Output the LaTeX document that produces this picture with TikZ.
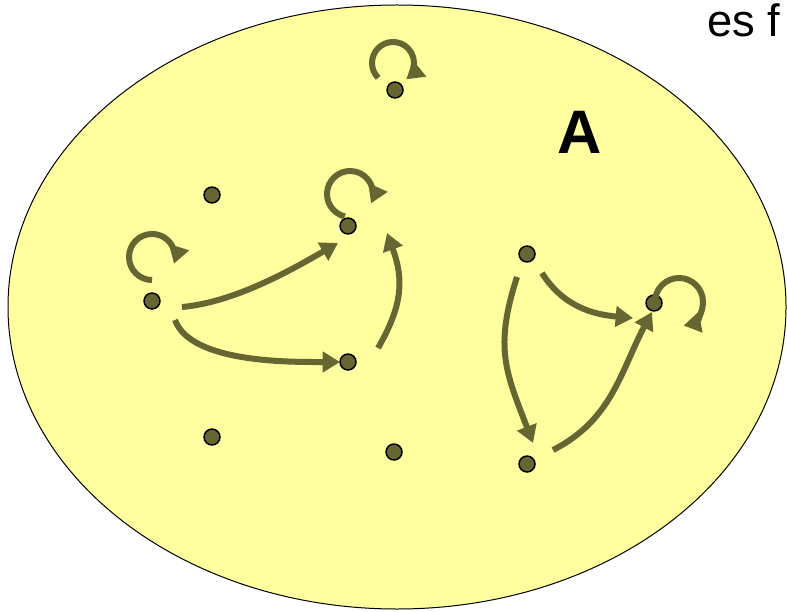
\documentclass[tikz,border=0pt]{standalone}
\usepackage{fontspec}
\setmainfont{Liberation Sans}
\usetikzlibrary{arrows.meta}
\definecolor{pale}{RGB}{255,255,160}
\definecolor{dotcol}{RGB}{102,102,51}
\begin{document}
\begin{tikzpicture}[x=0.75pt, y=0.75pt,
            vertex/.style={circle, draw, fill=dotcol, minimum size=12pt, inner sep=0pt, line width=1.1pt},
            link/.style={draw=dotcol, line width=4.5pt, -{Triangle[length=13pt,width=15pt]}}
            ]
            \useasboundingbox (0,0) rectangle (787,611);
            \draw[fill=pale, line width=0.75pt] (397,304) ellipse [x radius=389, y radius=302];

            \node[vertex] (a) at (395,521) {};
            \node[vertex] (b) at (212,416) {};
            \node[vertex] (c) at (348,385) {};
            \node[vertex] (d) at (152,310) {};
            \node[vertex] (e) at (348,249) {};
            \node[vertex] (f) at (212,174) {};
            \node[vertex] (g) at (394,159) {};
            \node[vertex] (h) at (527,357) {};
            \node[vertex] (i) at (654,308) {};
            \node[vertex] (j) at (527,147) {};

            % loops
            \draw[link] (a) ++(-2,27) ++(225:21) arc[start angle=225, end angle=-51, radius=21];
            \draw[link] (c) ++(2,32) ++(257:23) arc[start angle=257, end angle=-24, radius=23];
            \draw[link] (d) ++(0,44) ++(270:23) arc[start angle=270, end angle=-17, radius=23];
            \draw[link] (i) ++(25,1) ++(180:24) arc[start angle=180, end angle=-79, radius=24];

            % arrows between vertices
            \draw[link] ([shift={(30,-6)}]d.center) to[out=5, in=210, looseness=0.8] ([shift={(-10,-17)}]c.center);
            \draw[link] ([shift={(23,-19)}]d.center) to[out=-70, in=180, looseness=0.7] ([shift={(-8,0)}]e.center);
            \draw[link] ([shift={(30,14)}]e.center) to[out=60, in=-70, looseness=1.1] ([shift={(39,-7)}]c.center);
            \draw[link] ([shift={(15,-19)}]h.center) to[out=-58, in=175] ([shift={(-21,-15)}]i.center);
            \draw[link] ([shift={(-10,-23)}]h.center) to[out=-108, in=111, looseness=1.15] ([shift={(6,21)}]j.center);
            \draw[link] ([shift={(26,14)}]j.center) to[out=27, in=242] ([shift={(-2,-9)}]i.center);

            \node[font=\bfseries\fontsize{46}{48}\selectfont, anchor=base, inner sep=0pt] (lbl) at (580,457) {A};
            \node[font=\fontsize{34}{36}\selectfont, anchor=base west, inner sep=0pt] (cut) at (707,574) {es f};
            \end{tikzpicture}
\end{document}
